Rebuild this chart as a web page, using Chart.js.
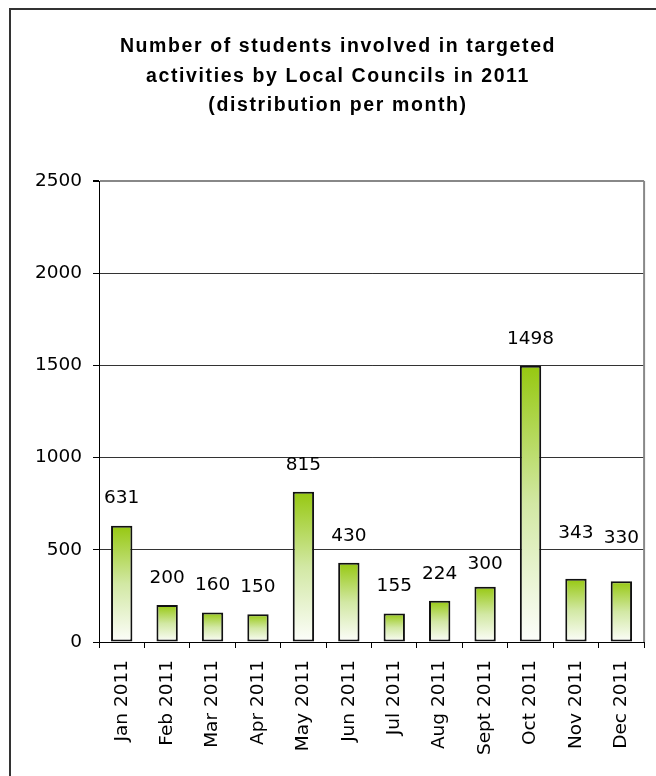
<!DOCTYPE html>
<html>
<head>
<meta charset="utf-8">
<title>Students involved in targeted activities, 2011</title>
<script src="https://cdn.jsdelivr.net/npm/chart.js@4.4.1/dist/chart.umd.min.js"></script>
<style>
  html, body { margin: 0; padding: 0; background: #fff; }
  #wrap { width: 656px; height: 776px; }
</style>
</head>
<body>
<div id="wrap"><canvas id="barChart" width="656" height="776"></canvas></div>
<script>
const months = ['Jan 2011', 'Feb 2011', 'Mar 2011', 'Apr 2011', 'May 2011', 'Jun 2011',
                'Jul 2011', 'Aug 2011', 'Sept 2011', 'Oct 2011', 'Nov 2011', 'Dec 2011'];
const students = [631, 200, 160, 150, 815, 430, 155, 224, 300, 1498, 343, 330];
const yTicks = [0, 500, 1000, 1500, 2000, 2500];
const titleLines = [
    'Number of students involved in targeted',
    'activities by Local Councils in 2011',
    '(distribution per month)'
];

const tickFont = { family: '"DejaVu Sans", sans-serif', size: 18.5 };

// white page, outer frame, and the grey right edge of the plot
const framePlugin = {
    id: 'frame',
    beforeDraw(chart) {
        const ctx = chart.ctx;
        ctx.save();
        ctx.fillStyle = '#fff';
        ctx.fillRect(0, 0, chart.width, chart.height);
        ctx.strokeStyle = '#333';
        ctx.lineWidth = 2;
        ctx.beginPath();
        ctx.moveTo(10, chart.height);
        ctx.lineTo(10, 9);
        ctx.lineTo(chart.width, 9);
        ctx.stroke();
        ctx.restore();
    },
    beforeDatasetsDraw(chart) {
        const a = chart.chartArea;
        const ctx = chart.ctx;
        ctx.save();
        ctx.strokeStyle = '#888';
        ctx.lineWidth = 2;
        ctx.beginPath();
        ctx.moveTo(a.right, a.top);
        ctx.lineTo(a.right, a.bottom);
        ctx.stroke();
        ctx.restore();
    }
};

// three-line bold heading
const headingPlugin = {
    id: 'heading',
    afterDraw(chart, args, opts) {
        const ctx = chart.ctx;
        ctx.save();
        ctx.font = 'bold 19.5px "Liberation Sans", Arial, sans-serif';
        ctx.letterSpacing = '1.6px';
        ctx.fillStyle = '#000';
        ctx.textAlign = 'center';
        ctx.textBaseline = 'alphabetic';
        opts.lines.forEach((line, i) => {
            ctx.fillText(line, opts.x, opts.top + i * opts.lineHeight);
        });
        ctx.restore();
    }
};

// value printed above each bar
const valueLabels = {
    id: 'valueLabels',
    afterDatasetsDraw(chart, args, opts) {
        const ctx = chart.ctx;
        const meta = chart.getDatasetMeta(0);
        ctx.save();
        ctx.font = tickFont.size + 'px ' + tickFont.family;
        ctx.fillStyle = '#000';
        ctx.textAlign = 'center';
        ctx.textBaseline = 'middle';
        meta.data.forEach((bar, i) => {
            const lift = opts.lift[i] !== undefined ? opts.lift[i] : opts.gap;
            ctx.fillText(String(chart.data.datasets[0].data[i]), bar.x, bar.y - lift);
        });
        ctx.restore();
    }
};

function barFill(context) {
    const chart = context.chart;
    const y = chart.scales.y;
    if (!y || context.type !== 'data') return '#99cc00';
    const top = y.getPixelForValue(context.parsed.y);
    const bottom = y.getPixelForValue(0);
    if (!isFinite(top) || !isFinite(bottom) || top === bottom) return '#99cc00';
    const g = chart.ctx.createLinearGradient(0, top, 0, bottom);
    g.addColorStop(0, '#96c810');
    g.addColorStop(0.5, '#d2e8a4');
    g.addColorStop(1, '#fdfefb');
    return g;
}

const ctx = document.getElementById('barChart').getContext('2d');

const barChart = new Chart(ctx, {
    type: 'bar',
    data: {
        labels: months,
        datasets: [{
            label: 'Students',
            data: students,
            backgroundColor: barFill,
            borderColor: '#111',
            borderWidth: 2,
            borderSkipped: false,
            categoryPercentage: 1,
            barPercentage: 0.47
        }]
    },
    options: {
        responsive: false,
        animation: false,
        devicePixelRatio: 1,
        layout: { padding: { top: 181, right: 10, bottom: 0, left: 0 } },
        plugins: {
            legend: { display: false },
            tooltip: { enabled: false },
            heading: { lines: titleLines, x: 338, top: 52, lineHeight: 29.5 },
            valueLabels: { gap: 27, lift: { 8: 22, 10: 46, 11: 43 } }
        },
        scales: {
            x: {
                afterFit(scale) { scale.height = 134; },
                grid: {
                    drawOnChartArea: false,
                    offset: true,
                    tickLength: 6,
                    tickColor: '#000'
                },
                border: { color: '#000', width: 1 },
                ticks: {
                    autoSkip: false,
                    minRotation: 90,
                    maxRotation: 90,
                    padding: 12,
                    color: '#000',
                    font: tickFont
                }
            },
            y: {
                min: 0,
                max: 2500,
                afterFit(scale) { scale.width = 99; },
                afterBuildTicks(scale) {
                    scale.ticks = yTicks.map(v => ({ value: v }));
                },
                grid: {
                    color: c => (c.tick && c.tick.value === 2500 ? '#888' : '#333'),
                    lineWidth: c => (c.tick && c.tick.value === 2500 ? 2 : 1),
                    tickLength: 6,
                    tickColor: '#000'
                },
                border: { color: '#000', width: 1 },
                ticks: {
                    padding: 11,
                    color: '#000',
                    font: tickFont,
                    callback: value => String(value)
                }
            }
        }
    },
    plugins: [framePlugin, headingPlugin, valueLabels]
});
</script>
</body>
</html>
